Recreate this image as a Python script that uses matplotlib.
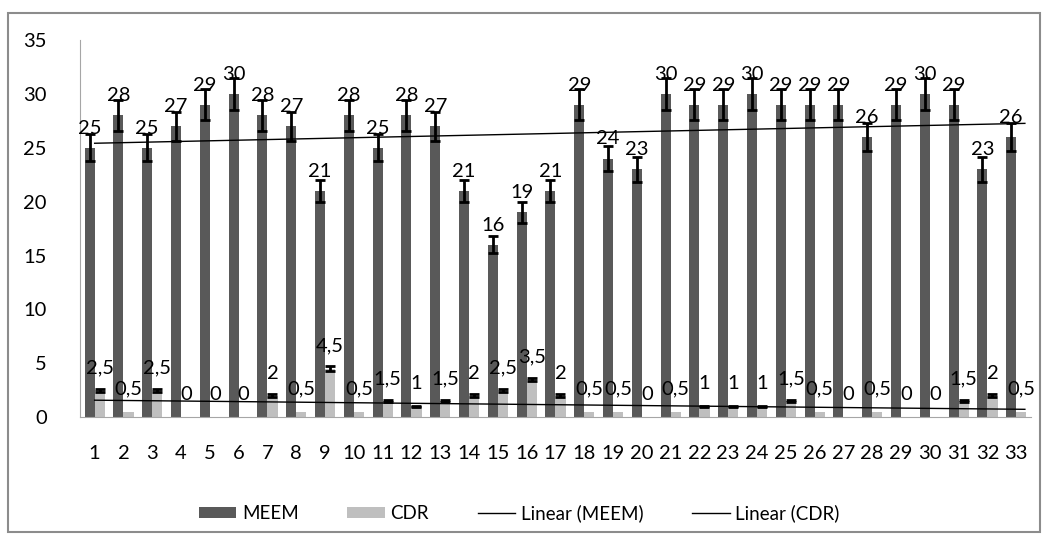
import numpy as np
import matplotlib.pyplot as plt
from matplotlib.patches import Rectangle

plt.rcParams['font.family'] = ['Lato', 'DejaVu Sans']
plt.rcParams['xtick.major.pad'] = 20
plt.rcParams['ytick.major.pad'] = 24

samples = np.arange(1, 34)
meem = [25, 28, 25, 27, 29, 30, 28, 27, 21, 28, 25, 28, 27, 21, 16, 19, 21,
        29, 24, 23, 30, 29, 29, 30, 29, 29, 29, 26, 29, 30, 29, 23, 26]
cdr = [2.5, 0.5, 2.5, 0, 0, 0, 2, 0.5, 4.5, 0.5, 1.5, 1, 1.5, 2, 2.5, 3.5, 2,
       0.5, 0.5, 0, 0.5, 1, 1, 1, 1.5, 0.5, 0, 0.5, 0, 0, 1.5, 2, 0.5]

meem = np.array(meem, dtype=float)
cdr = np.array(cdr, dtype=float)

fig = plt.figure(figsize=(10.49, 5.41), dpi=100)
ax = fig.add_axes([0.0765, 0.229, 0.906, 0.697])

w = 0.35
dark = '#595959'
light = '#bfbfbf'
b1 = ax.bar(samples - w / 2, meem, w, color=dark, zorder=2)
b2 = ax.bar(samples + w / 2, cdr, w, color=light, zorder=2)
ax.errorbar(samples - w / 2, meem, yerr=meem * 0.05, fmt='none',
            ecolor='black', elinewidth=2, capsize=3.6, capthick=2, zorder=3)
# the small CDR values show no error mark in the original
big = cdr >= 1
ax.errorbar((samples + w / 2)[big], cdr[big], yerr=cdr[big] * 0.05,
            fmt='none', ecolor='black', elinewidth=2, capsize=3.6,
            capthick=2, zorder=3)

def fmt(v):
    return ('%g' % v).replace('.', ',')

for x, v in zip(samples, meem):
    ax.annotate(fmt(v), (x - w / 2, v), xytext=(0, 8),
                textcoords='offset points', ha='center', va='bottom',
                fontsize=14.5, zorder=4)
for x, v in zip(samples, cdr):
    ax.annotate(fmt(v), (x + w / 2, v), xytext=(0, 10),
                textcoords='offset points', ha='center', va='bottom',
                fontsize=14.5, zorder=4)

# linear trend lines
lines = []
for vals in (meem, cdr):
    k, b = np.polyfit(samples, vals, 1)
    ln, = ax.plot([1, 33.3], [k * 1 + b, k * 33.3 + b], color='black', lw=1,
                  zorder=3)
    lines.append(ln)

ax.set_xlim(0.5, 33.5)
ax.set_ylim(0, 35)
ax.set_yticks(range(0, 36, 5))
ax.set_xticks(samples)
ax.tick_params(length=0, labelsize=14.5)
for s in ['top', 'right']:
    ax.spines[s].set_visible(False)
for s in ['left', 'bottom']:
    ax.spines[s].set_color('#a6a6a6')

ax.legend([b1, b2] + lines, ['MEEM', 'CDR', 'Linear (MEEM)', 'Linear (CDR)'],
          loc='center', bbox_to_anchor=(0.462, -0.255), ncol=4,
          frameon=False, fontsize=13.5, handlelength=2.0, handleheight=0.55,
          columnspacing=2.6, handletextpad=0.3)

fig.patches.append(Rectangle((0.008, 0.016), 0.983, 0.96,
                             transform=fig.transFigure, fill=False,
                             edgecolor='#8c8c8c', lw=1.5))

fig.savefig('out.png', dpi=100)
